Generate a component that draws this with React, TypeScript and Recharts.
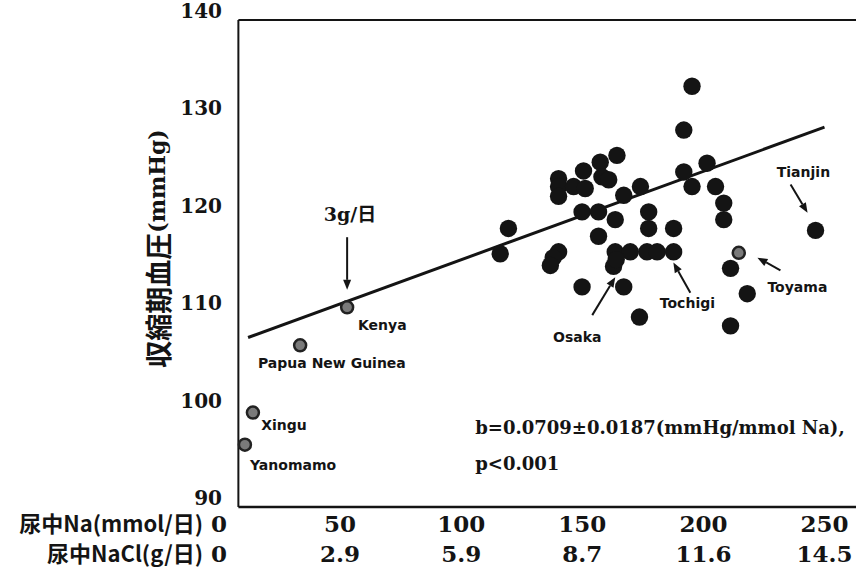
import { ScatterChart, Scatter, XAxis, YAxis, ReferenceLine, ReferenceDot } from 'recharts'

// x: 尿中Na (mmol/日), y: 収縮期血圧 (mmHg)
const naTicks = [0, 50, 100, 150, 200, 250]
const naclTicks = ['0', '2.9', '5.9', '8.7', '11.6', '14.5']
const bpTicks = [90, 100, 110, 120, 130, 140]

// INTERSALT centres (filled dots), [Na, SBP]
const centres: [number, number][] = [
  [195.3, 133.2], [191.9, 128.7], [164.3, 126.1], [157.4, 125.4], [150.5, 124.5],
  [140.2, 123.7], [140.2, 122.9], [140.2, 121.9], [146.4, 122.9], [151.2, 122.7],
  [158.1, 123.9], [160.9, 123.6], [119.5, 118.6], [116.1, 116.0], [149.9, 120.3],
  [156.7, 120.3], [163.6, 119.5], [156.7, 117.8], [140.2, 116.2], [138.0, 115.6],
  [136.8, 114.8], [149.9, 112.6], [167.1, 122.0], [174.0, 122.9], [177.4, 120.3],
  [177.4, 118.6], [187.7, 118.6], [191.9, 124.4], [195.3, 122.9], [201.5, 125.3],
  [205.0, 122.9], [208.4, 121.2], [208.4, 119.5], [163.6, 116.2], [169.8, 116.2],
  [176.7, 116.2], [180.9, 116.2], [187.7, 116.2], [162.9, 114.7], [167.1, 112.6],
  [173.6, 109.5], [211.2, 114.5], [218.1, 111.9], [211.2, 108.6], [246.3, 118.4],
  [164.0, 115.4],
]

// low-salt populations + Toyama (hatched dots)
const lowSalt: [number, number][] = [
  [52.9, 110.5], // Kenya
  [33.5, 106.6], // Papua New Guinea
  [14.0, 99.7], // Xingu
  [10.7, 96.4], // Yanomamo
  [214.6, 116.1], // Toyama
]

const regression = [{ x: 12, y: 107.4 }, { x: 250, y: 129 }]

// name labels: text, x, y (baseline), anchor
const labels: [string, number, number, 'start' | 'middle'][] = [
  ['Kenya', 57.4, 108.2, 'start'],
  ['Papua New Guinea', 16.1, 104.3, 'start'],
  ['Xingu', 17.4, 97.9, 'start'],
  ['Yanomamo', 12.8, 93.8, 'start'],
  ['Osaka', 147.9, 106.9, 'middle'],
  ['Tochigi', 193.4, 110.4, 'middle'],
  ['Toyama', 238.8, 112.1, 'middle'],
  ['Tianjin', 241.3, 123.9, 'middle'],
]

// arrows: from -> to
const arrows: [number, number, number, number][] = [
  [52.9, 117.7, 52.9, 112.3],
  [154.1, 109.7, 163.6, 113.6],
  [194.6, 112.0, 187.6, 115.1],
  [231.8, 114.3, 222.3, 115.6],
  [236.0, 123.1, 243.0, 120.2],
]

const serif = '"DejaVu Serif", "Noto Sans CJK JP", serif'
const sans = '"DejaVu Sans", sans-serif'
const cjk = '"Noto Sans CJK JP", sans-serif'
const ink = '#141414'

const toPts = (arr: [number, number][]) => arr.map(([x, y]) => ({ x, y }))

const FilledDot = (p: any) => <circle cx={p.cx} cy={p.cy} r={8.7} fill={ink} />
const HatchDot = (p: any) => (
  <circle cx={p.cx} cy={p.cy} r={6} fill="#7a7a7a" stroke="#222" strokeWidth={2.5} />
)

const Arrow = (p: any) => {
  const { x1, y1, x2, y2 } = p
  const a = Math.atan2(y2 - y1, x2 - x1)
  const h = 10
  const w = 4
  const bx = x2 - h * Math.cos(a)
  const by = y2 - h * Math.sin(a)
  const nx = -Math.sin(a) * w
  const ny = Math.cos(a) * w
  return (
    <g>
      <line x1={x1} y1={y1} x2={bx} y2={by} stroke={ink} strokeWidth={2} />
      <polygon points={`${x2},${y2} ${bx + nx},${by + ny} ${bx - nx},${by - ny}`} fill={ink} />
    </g>
  )
}

const NaTick = ({ x, y, payload }: any) => {
  const i = naTicks.indexOf(payload.value)
  return (
    <g fontWeight="bold" fill={ink}>
      <text x={x} y={y + 25} textAnchor="middle" fontFamily={serif} fontSize={23}>
        {payload.value}
      </text>
      <text x={x} y={y + 55} textAnchor="middle" fontFamily={serif} fontSize={23}>
        {naclTicks[i]}
      </text>
      {i === 0 && (
        <>
          <text x={x - 16} y={y + 25} textAnchor="end" fontFamily={cjk} fontSize={22}>
            尿中Na(mmol/日)
          </text>
          <text x={x - 16} y={y + 55} textAnchor="end" fontFamily={cjk} fontSize={22}>
            尿中NaCl(g/日)
          </text>
        </>
      )}
    </g>
  )
}

const BpTick = ({ x, y, payload }: any) => (
  <text x={x + 3} y={y - 2} textAnchor="end" fontFamily={serif} fontWeight="bold" fontSize={20} fill={ink}>
    {payload.value}
  </text>
)

const YLabel = ({ viewBox }: any) => {
  const cx = viewBox.x + viewBox.width - 62
  const cy = viewBox.y + viewBox.height / 2 - 15
  return (
    <text
      x={cx}
      y={cy}
      textAnchor="middle"
      dominantBaseline="central"
      transform={`rotate(-90, ${cx}, ${cy})`}
      fontWeight="bold"
      fill={ink}
    >
      <tspan fontFamily={cjk} fontSize={27}>収縮期血圧</tspan>
      <tspan fontFamily={serif} fontSize={22}>(mmHg)</tspan>
    </text>
  )
}

const textAt = (txt: string, anchor: string, family: string, size: number) => (p: any) => (
  <text x={p.cx} y={p.cy} textAnchor={anchor} fontFamily={family} fontWeight="bold" fontSize={size} fill={ink}>
    {txt}
  </text>
)

export default function App() {
  return (
    <div style={{ position: 'absolute', left: 0, top: 0, background: '#fff' }}>
      <ScatterChart width={856} height={567} margin={{ top: 20, right: 0, bottom: 0, left: 0 }}>
        <XAxis
          type="number"
          dataKey="x"
          domain={[0, 263]}
          ticks={naTicks}
          interval={0}
          tick={<NaTick />}
          tickLine={false}
          axisLine={false}
          tickSize={0}
          tickMargin={0}
          height={60}
          allowDataOverflow
        />
        <YAxis
          type="number"
          dataKey="y"
          domain={[90, 140]}
          ticks={bpTicks}
          interval={0}
          tick={<BpTick />}
          tickLine={false}
          axisLine={false}
          tickSize={0}
          tickMargin={0}
          width={219}
          label={<YLabel />}
          allowDataOverflow
        />
        {/* frame */}
        <ReferenceLine segment={[{ x: 8, y: 90 }, { x: 8, y: 140 }]} stroke={ink} strokeWidth={2} />
        <ReferenceLine segment={[{ x: 8, y: 140 }, { x: 263, y: 140 }]} stroke={ink} strokeWidth={2} />
        <ReferenceLine segment={[{ x: 8, y: 90 }, { x: 263, y: 90 }]} stroke={ink} strokeWidth={2.5} />

        <ReferenceLine segment={regression} stroke={ink} strokeWidth={3} />

        <Scatter data={toPts(centres)} shape={FilledDot} isAnimationActive={false} />
        <Scatter data={toPts(lowSalt)} shape={HatchDot} isAnimationActive={false} />

        {arrows.map(([x1, y1, x2, y2], i) => (
          <ReferenceLine key={'a' + i} segment={[{ x: x1, y: y1 }, { x: x2, y: y2 }]} shape={Arrow} />
        ))}
        {labels.map(([t, x, y, anchor]) => (
          <ReferenceDot key={t} x={x} y={y} r={0} shape={textAt(t, anchor, sans, 14)} />
        ))}
        <ReferenceDot x={54.1} y={119.4} r={0} shape={textAt('3g/日', 'middle', serif, 19)} />
        <ReferenceDot
          x={105.8}
          y={97.5}
          r={0}
          shape={textAt('b=0.0709±0.0187(mmHg/mmol Na),', 'start', serif, 18)}
        />
        <ReferenceDot x={105.8} y={93.8} r={0} shape={textAt('p<0.001', 'start', serif, 18)} />
      </ScatterChart>
    </div>
  )
}
